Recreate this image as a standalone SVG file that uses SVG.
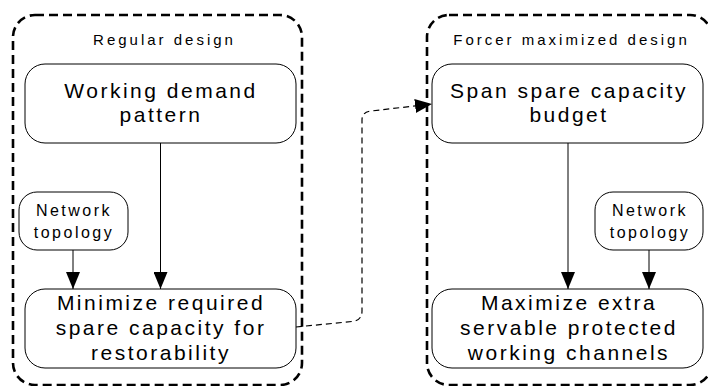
<svg xmlns="http://www.w3.org/2000/svg" width="708" height="386" viewBox="0 0 708 386">
<style>
.cont{fill:none;stroke:#000;stroke-width:2.6;stroke-dasharray:9 5}
.box{fill:#fff;stroke:#000;stroke-width:1}
.t{font-family:"Liberation Sans",Arial,sans-serif;fill:#000;text-anchor:middle}
.big{font-size:21px;letter-spacing:2.5px}
.sm{font-size:16px;letter-spacing:2.5px}
.ttl{font-size:15px;letter-spacing:3px}
.ln{fill:none;stroke:#000;stroke-width:1}
.dl{fill:none;stroke:#000;stroke-width:1.2;stroke-dasharray:6 4}
</style>
<defs>
<marker id="ah" viewBox="0 0 17 14" refX="17" refY="7" markerWidth="17" markerHeight="14" markerUnits="userSpaceOnUse" orient="auto">
<path d="M0,0 L17,7 L0,14 Z" fill="#000"/>
</marker>
</defs>
<g id="regular-design">
<rect class="cont" x="13" y="15" width="289" height="370" rx="22"/>
<text class="t ttl" x="164.5" y="45">Regular design</text>
</g>
<g id="forcer-design">
<rect class="cont" x="427" y="15" width="285" height="370" rx="22"/>
<text class="t ttl" x="571.5" y="45">Forcer maximized design</text>
</g>
<g id="connectors">
<path class="ln" d="M160.5,143 V289" marker-end="url(#ah)"/>
<path class="ln" d="M73,250 V289" marker-end="url(#ah)"/>
<path class="ln" d="M568,143 V289" marker-end="url(#ah)"/>
<path class="ln" d="M649,250 V289" marker-end="url(#ah)"/>
<path class="dl" d="M296,327 L352,321.5 Q362,320.5 362,311 L362,120 Q362,112 371,111 L432,104" marker-end="url(#ah)"/>
</g>
<g id="working-demand">
<rect class="box" x="25" y="64" width="271" height="79" rx="20"/>
<text class="t big" x="161" y="98">Working demand</text>
<text class="t big" x="161" y="122">pattern</text>
</g>
<g id="network-topology-1">
<rect class="box" x="19" y="192" width="109" height="58" rx="18"/>
<text class="t sm" x="74" y="216">Network</text>
<text class="t sm" x="74" y="238">topology</text>
</g>
<g id="minimize">
<rect class="box" x="25" y="289" width="271" height="79" rx="20"/>
<text class="t big" x="161" y="310">Minimize required</text>
<text class="t big" x="161" y="335">spare capacity for</text>
<text class="t big" x="161" y="360">restorability</text>
</g>
<g id="span-budget">
<rect class="box" x="432" y="64" width="271" height="79" rx="20"/>
<text class="t big" x="569" y="98">Span spare capacity</text>
<text class="t big" x="569" y="122">budget</text>
</g>
<g id="network-topology-2">
<rect class="box" x="595" y="192" width="108" height="58" rx="18"/>
<text class="t sm" x="650" y="216">Network</text>
<text class="t sm" x="650" y="238">topology</text>
</g>
<g id="maximize">
<rect class="box" x="432" y="289" width="271" height="79" rx="20"/>
<text class="t big" x="569" y="310">Maximize extra</text>
<text class="t big" x="569" y="335">servable protected</text>
<text class="t big" x="569" y="360">working channels</text>
</g>
</svg>
